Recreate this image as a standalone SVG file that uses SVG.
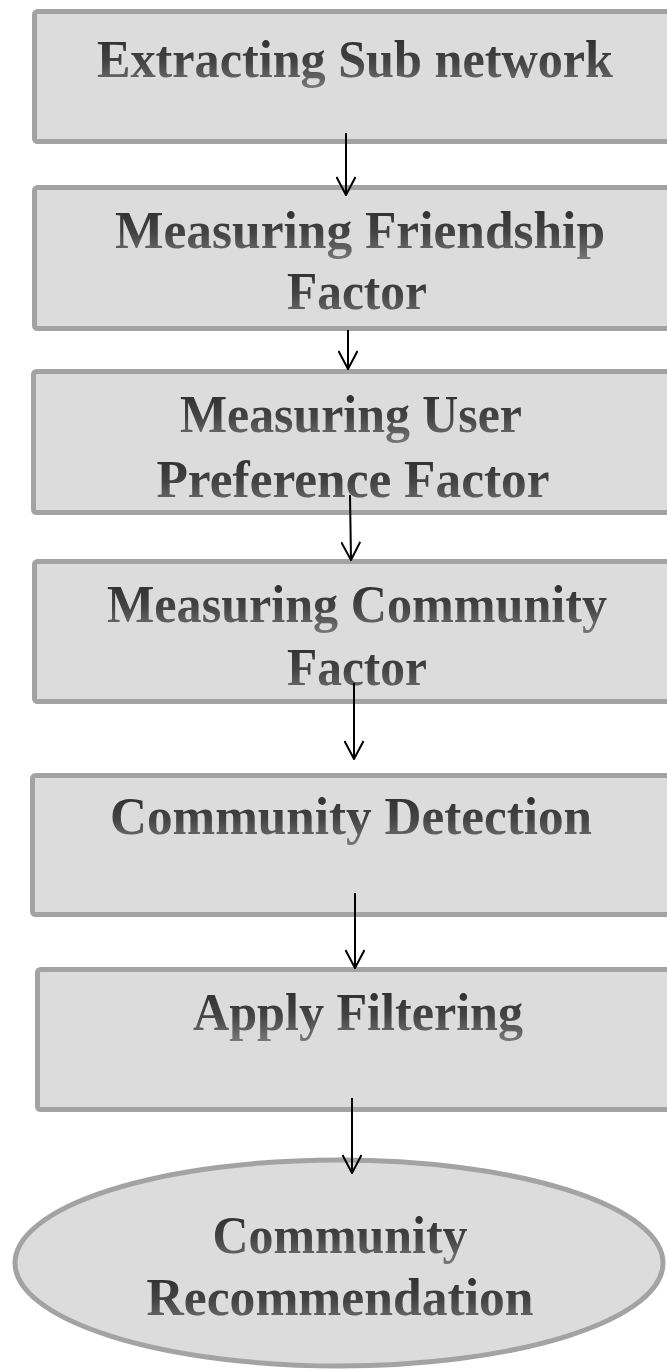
<svg xmlns="http://www.w3.org/2000/svg" width="667" height="1370" viewBox="0 0 667 1370">
  <defs>
    <linearGradient id="txtGrad" x1="0" y1="0" x2="0" y2="1">
      <stop offset="0" stop-color="#2a2a2a"/>
      <stop offset="0.55" stop-color="#444444"/>
      <stop offset="1" stop-color="#777777"/>
    </linearGradient>
    <!-- open chevron arrowhead, drawn along +x so orient="auto" points it down the line -->
    <marker id="arrow" viewBox="0 0 20 20" refX="19" refY="10" markerWidth="20" markerHeight="20" markerUnits="userSpaceOnUse" orient="auto">
      <path d="M1,0.5 L19,10 L1,19.5" fill="none" stroke="#000" stroke-width="2"/>
    </marker>
  </defs>
  <style>
    .box { fill: #dcdcdc; stroke: #a3a3a3; stroke-width: 5; }
    .lbl { font-family: "Liberation Serif", "Times New Roman", serif; font-weight: bold; font-size: 52px; fill: url(#txtGrad); text-anchor: middle; }
    .conn { stroke: #000; stroke-width: 2; fill: none; }
  </style>

  <g id="n1">
    <rect class="box" x="34.5" y="11.5" width="660" height="130" rx="3"/>
    <text class="lbl" x="355" y="77" textLength="516" lengthAdjust="spacingAndGlyphs">Extracting Sub network</text>
  </g>
  <g id="n2">
    <rect class="box" x="34.5" y="187.5" width="660" height="141" rx="3"/>
    <text class="lbl" x="360" y="248" textLength="490" lengthAdjust="spacingAndGlyphs">Measuring Friendship</text>
    <text class="lbl" x="357" y="309" textLength="140" lengthAdjust="spacingAndGlyphs">Factor</text>
  </g>
  <g id="n3">
    <rect class="box" x="33.5" y="371.5" width="660" height="141" rx="3"/>
    <text class="lbl" x="351" y="432" textLength="342" lengthAdjust="spacingAndGlyphs">Measuring User</text>
    <text class="lbl" x="353" y="497" textLength="393" lengthAdjust="spacingAndGlyphs">Preference Factor</text>
  </g>
  <g id="n4">
    <rect class="box" x="34.5" y="561.5" width="660" height="140" rx="3"/>
    <text class="lbl" x="357" y="622" textLength="500" lengthAdjust="spacingAndGlyphs">Measuring Community</text>
    <text class="lbl" x="357" y="685" textLength="140" lengthAdjust="spacingAndGlyphs">Factor</text>
  </g>
  <g id="n5">
    <rect class="box" x="32.5" y="775.5" width="660" height="139" rx="3"/>
    <text class="lbl" x="351" y="834" textLength="482" lengthAdjust="spacingAndGlyphs">Community Detection</text>
  </g>
  <g id="n6">
    <rect class="box" x="37.5" y="969.5" width="660" height="140" rx="3"/>
    <text class="lbl" x="358" y="1030" textLength="330" lengthAdjust="spacingAndGlyphs">Apply Filtering</text>
  </g>
  <g id="n7">
    <ellipse class="box" cx="339" cy="1263" rx="324" ry="103"/>
    <text class="lbl" x="340" y="1253" textLength="255" lengthAdjust="spacingAndGlyphs">Community</text>
    <text class="lbl" x="340" y="1315" textLength="387" lengthAdjust="spacingAndGlyphs">Recommendation</text>
  </g>

  <g id="connectors">
    <line class="conn" x1="346" y1="133" x2="346" y2="195" marker-end="url(#arrow)"/>
    <line class="conn" x1="348" y1="330" x2="348" y2="369" marker-end="url(#arrow)"/>
    <line class="conn" x1="350" y1="495" x2="351" y2="560" marker-end="url(#arrow)"/>
    <line class="conn" x1="354" y1="683" x2="354" y2="759" marker-end="url(#arrow)"/>
    <line class="conn" x1="355" y1="893" x2="355" y2="968" marker-end="url(#arrow)"/>
    <line class="conn" x1="352" y1="1098" x2="352" y2="1173" marker-end="url(#arrow)"/>
  </g>
</svg>
